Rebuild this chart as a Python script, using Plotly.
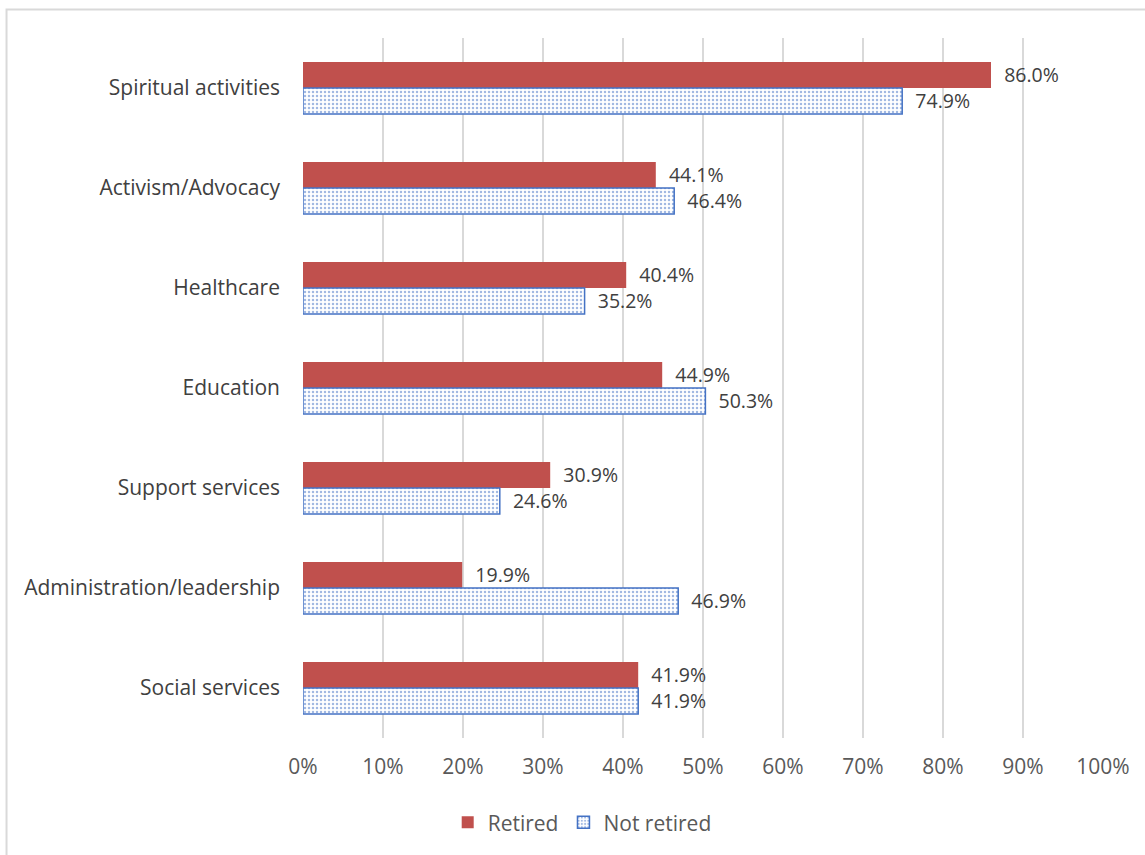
import plotly.graph_objects as go

categories = ["Spiritual activities", "Activism/Advocacy", "Healthcare", "Education",
              "Support services", "Administration/leadership", "Social services"]
retired = [86.0, 44.1, 40.4, 44.9, 30.9, 19.9, 41.9]
not_retired = [74.9, 46.4, 35.2, 50.3, 24.6, 46.9, 41.9]
x_ticks = [0, 10, 20, 30, 40, 50, 60, 70, 80, 90, 100]
x_tick_labels = [f"{v}%" for v in x_ticks]

FONT = "Open Sans"
FS = 21
pad = "\u00a0\u00a0"

fig = go.Figure()
fig.add_trace(go.Bar(
    y=categories, x=retired, orientation="h", name="Retired",
    marker=dict(color="#c0504d", line=dict(width=0)),
    text=[pad + f"{v:.1f}%" for v in retired], textposition="outside",
    textfont=dict(family=FONT, size=FS, color="#404040"), cliponaxis=False,
))
fig.add_trace(go.Bar(
    y=categories, x=not_retired, orientation="h", name="Not retired",
    marker=dict(color="white", line=dict(color="#4472c4", width=1.5),
                pattern=dict(shape=".", fgcolor="#4472c4", bgcolor="white", size=4, solidity=0.3)),
    text=[pad + f"{v:.1f}%" for v in not_retired], textposition="outside",
    textfont=dict(family=FONT, size=FS, color="#404040"), cliponaxis=False,
))

fig.update_layout(
    width=1145, height=855,
    margin=dict(l=303, r=42, t=38, b=117),
    paper_bgcolor="white", plot_bgcolor="white",
    barmode="group", bargap=0.48, bargroupgap=0,
    font=dict(family=FONT, size=FS, color="#404040"),
    showlegend=True,
    legend=dict(orientation="h", x=0.349, xanchor="center", y=-0.121, yanchor="middle",
                font=dict(family=FONT, size=FS, color="#595959"), itemwidth=30),
    xaxis=dict(range=[0, 100], tickvals=x_ticks, ticktext=x_tick_labels,
               showgrid=True, gridcolor="#d9d9d9", gridwidth=2,
               zeroline=False, showline=False, ticks="",
               tickfont=dict(family=FONT, size=FS, color="#595959"),
               ticklabelstandoff=14),
    yaxis=dict(autorange="reversed", showgrid=False, zeroline=False,
               showline=False, ticks="", ticklabelstandoff=22,
               tickfont=dict(family=FONT, size=FS, color="#404040")),
    shapes=[dict(type="rect", xref="paper", yref="paper",
                 x0=-0.3706, x1=1.5, y0=-1.0, y1=1.0407,
                 line=dict(color="#d9d9d9", width=2), fillcolor="rgba(0,0,0,0)", layer="below")],
)

fig.write_html("out.html", config={"displayModeBar": False},
               post_script="document.body.style.margin='0';")
